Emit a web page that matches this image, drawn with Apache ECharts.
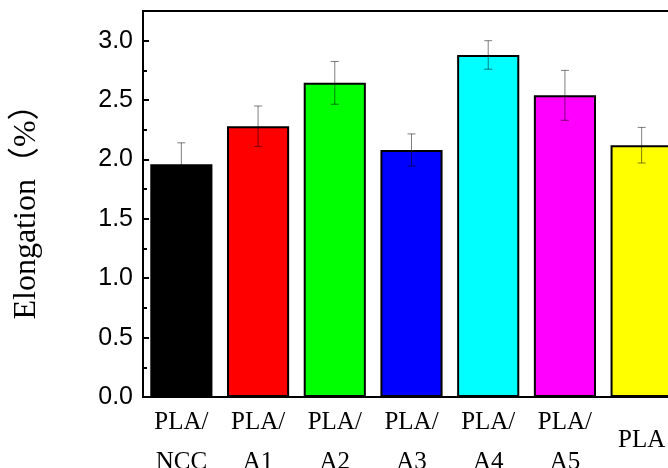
<!DOCTYPE html>
<html>
<head>
<meta charset="utf-8">
<script src="https://cdn.jsdelivr.net/npm/echarts@6/dist/echarts.min.js"></script>
<style>
  html, body { margin: 0; padding: 0; background: #fff; }
  #main { width: 668px; height: 468px; }
</style>
</head>
<body>
<div id="main"></div>
<script>
// samples on the x axis
var categories = ['PLA/\nNCC', 'PLA/\nA1', 'PLA/\nA2', 'PLA/\nA3', 'PLA/\nA4', 'PLA/\nA5', 'PLA'];
// elongation at break (%)
var elongation = [1.96, 2.28, 2.645, 2.08, 2.88, 2.54, 2.12];
// standard deviation (error bars)
var errors = [0.18, 0.17, 0.18, 0.135, 0.12, 0.21, 0.15];
var barColors = ['#000000', '#ff0000', '#00ff00', '#0000ff', '#00ffff', '#ff00ff', '#ffff00'];

var chartDom = document.getElementById('main');
var myChart = echarts.init(chartDom);

var barData = elongation.map(function (v, i) {
  return { value: v, itemStyle: { color: barColors[i] } };
});
var errData = elongation.map(function (v, i) {
  return [i, v - errors[i], v + errors[i]];
});

var option = {
  animation: false,
  grid: {
    left: 143, top: 11, bottom: 71, right: -12,
    outerBoundsMode: 'none',
    containLabel: false,
    show: true, borderColor: '#000', borderWidth: 2, backgroundColor: 'transparent'
  },
  xAxis: {
    type: 'category',
    data: categories,
    axisLine: { lineStyle: { color: '#000', width: 2 } },
    axisTick: { show: false },
    axisLabel: {
      interval: 0,
      margin: 5,
      color: '#000',
      fontFamily: 'Liberation Serif',
      fontSize: 25,
      lineHeight: 40,
      formatter: function (v) {
        // single line label sits in the middle of the two-line block
        return v.indexOf('\n') < 0 ? '{s|' + v + '}' : v;
      },
      rich: {
        s: { fontFamily: 'Liberation Serif', fontSize: 25, color: '#000', lineHeight: 76 }
      }
    }
  },
  yAxis: {
    type: 'value',
    min: 0,
    max: 3.25,
    interval: 0.5,
    name: 'Elongation（%）',
    nameLocation: 'middle',
    nameGap: 100,
    nameTextStyle: {
      fontFamily: 'Liberation Serif, "Noto Sans CJK SC"',
      fontSize: 32,
      color: '#000'
    },
    axisLine: { show: true, lineStyle: { color: '#000', width: 2 } },
    axisTick: { show: true, inside: true, length: 6, lineStyle: { color: '#000', width: 2 } },
    minorTick: { show: true, splitNumber: 2, length: 4, lineStyle: { color: '#000', width: 2 } },
    splitLine: { show: false },
    axisLabel: {
      showMaxLabel: false,
      margin: 10,
      color: '#000',
      fontFamily: 'Liberation Sans',
      fontSize: 25,
      formatter: function (v) { return v.toFixed(1); }
    }
  },
  series: [
    {
      type: 'bar',
      data: barData,
      barWidth: '81%',
      itemStyle: { borderColor: '#000', borderWidth: 2 }
    },
    {
      type: 'custom',
      data: errData,
      z: 10,
      renderItem: function (params, api) {
        var x = api.value(0);
        var lo = api.coord([x, api.value(1)]);
        var hi = api.coord([x, api.value(2)]);
        var cap = 4;
        var style = { stroke: 'rgba(0,0,0,0.5)', lineWidth: 1 };
        return {
          type: 'group',
          children: [
            { type: 'line', shape: { x1: hi[0], y1: hi[1], x2: lo[0], y2: lo[1] }, style: style },
            { type: 'line', shape: { x1: hi[0] - cap, y1: hi[1], x2: hi[0] + cap, y2: hi[1] }, style: style },
            { type: 'line', shape: { x1: lo[0] - cap, y1: lo[1], x2: lo[0] + cap, y2: lo[1] }, style: style }
          ]
        };
      }
    }
  ]
};
myChart.setOption(option);
</script>
</body>
</html>
